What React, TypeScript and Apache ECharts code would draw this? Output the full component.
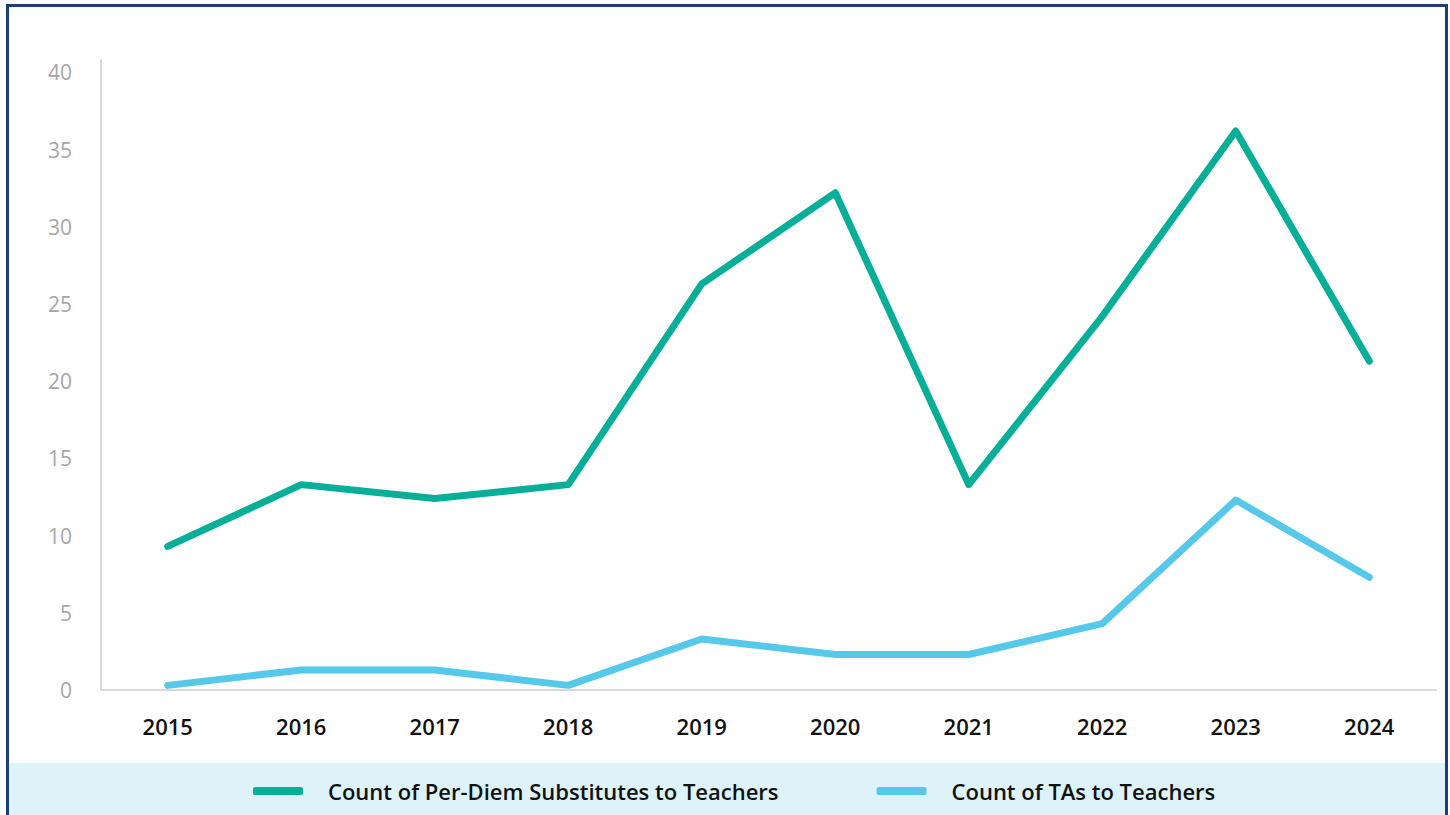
import React, { useEffect, useRef } from "react";
import * as echarts from "echarts";

const years = ["2015", "2016", "2017", "2018", "2019", "2020", "2021", "2022", "2023", "2024"];
const perDiemSubs = [9.3, 13.3, 12.4, 13.3, 26.3, 32.2, 13.3, 24.2, 36.2, 21.3];
const tasToTeachers = [0.3, 1.3, 1.3, 0.3, 3.3, 2.3, 2.3, 4.3, 12.3, 7.3];
const seriesNames = ["Count of Per-Diem Substitutes to Teachers", "Count of TAs to Teachers"];

const GREEN = "#07ae98";
const BLUE = "#56c8e9";
const FONT = "'Open Sans', 'Noto Sans', sans-serif";

export default function App() {
  const ref = useRef<HTMLDivElement>(null);
  useEffect(() => {
    if (!ref.current) return;
    const chart = echarts.init(ref.current, undefined, { renderer: "svg" });
    chart.setOption({
      animation: false,
      backgroundColor: "#ffffff",
      graphic: [
        {
          type: "rect",
          z: -10,
          shape: { x: 9, y: 763, width: 1436, height: 60 },
          style: { fill: "#ddf3f9" },
          silent: true,
        },
        {
          type: "rect",
          z: 100,
          shape: { x: 7.5, y: 5.5, width: 1439, height: 850 },
          style: { fill: "none", stroke: "#1e3f74", lineWidth: 3 },
          silent: true,
        },
      ],
      grid: { left: 101, right: 14, top: 60, bottom: 125, containLabel: false },
      legend: {
        bottom: 8,
        left: 248,
        itemWidth: 50,
        itemHeight: 8,
        itemGap: 98,
        icon: "roundRect",
        data: seriesNames,
        textStyle: {
          fontFamily: FONT,
          fontSize: 22,
          fontWeight: 600,
          color: "#111111",
          padding: [0, 0, 0, 20],
        },
      },
      xAxis: {
        type: "category",
        data: years,
        boundaryGap: true,
        axisLine: { show: true, lineStyle: { color: "#d9d9d9", width: 2 } },
        axisTick: { show: false },
        axisLabel: {
          margin: 25,
          fontFamily: FONT,
          fontSize: 22,
          fontWeight: 600,
          color: "#111111",
        },
        splitLine: { show: false },
      },
      yAxis: {
        type: "value",
        min: 0,
        max: 40.8,
        interval: 5,
        axisLine: { show: true, lineStyle: { color: "#d9d9d9", width: 2 } },
        axisTick: { show: false },
        splitLine: { show: false },
        axisLabel: {
          margin: 29,
          fontFamily: FONT,
          fontSize: 21,
          fontWeight: 500,
          color: "#a6a6a6",
          formatter: (v: number) => (v % 5 === 0 ? String(v) : ""),
        },
      },
      series: [
        {
          name: seriesNames[0],
          type: "line",
          data: perDiemSubs,
          symbol: "none",
          lineStyle: { color: GREEN, width: 7, cap: "round", join: "round" },
          itemStyle: { color: GREEN },
        },
        {
          name: seriesNames[1],
          type: "line",
          data: tasToTeachers,
          symbol: "none",
          lineStyle: { color: BLUE, width: 7, cap: "round", join: "round" },
          itemStyle: { color: BLUE },
        },
      ],
    });
    return () => chart.dispose();
  }, []);
  return (
    <div style={{ position: "fixed", left: 0, top: 0, width: 1450, height: 815 }}>
      <div ref={ref} style={{ width: 1450, height: 815 }} />
    </div>
  );
}
